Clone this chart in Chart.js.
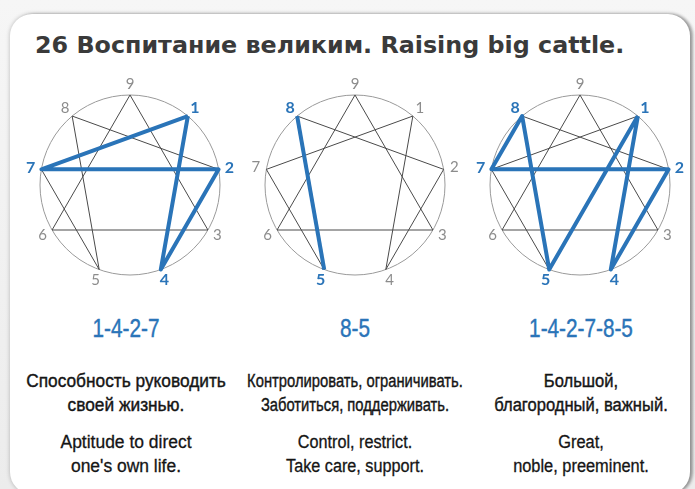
<!DOCTYPE html>
<html lang="ru">
<head>
<meta charset="UTF-8">
<title>26 Воспитание великим</title>
<script src="https://cdn.jsdelivr.net/npm/chart.js"></script>
<style>
  html, body { margin: 0; padding: 0; }
  body { width: 695px; height: 489px; overflow: hidden; position: relative;
         background: linear-gradient(180deg, #f6f6f6 0%, #ececec 100%); }
  .card { position: absolute; left: 10px; top: 14px; width: 680px; height: 480px;
          background: #fff; border-radius: 22px; box-shadow: 0 0 4px rgba(0,0,0,0.25), 3px 0 3px rgba(0,0,0,0.3); }
  h1 { position: absolute; left: 35px; top: 31px; margin: 0; font: bold 23.8px "DejaVu Sans", sans-serif; color: #3a3a3a; white-space: nowrap; }
  #diagram { position: absolute; left: 0; top: 60px; }
  .col { position: absolute; width: 300px; text-align: center; white-space: nowrap;
         font-family: "Liberation Sans", Arial, sans-serif; }
  .col div { transform-origin: 50% 50%; }
  .code { top: 313px; color: #2a74b8; font-size: 25px; line-height: 30px; -webkit-text-stroke: 0.4px #2a74b8; }
  .code div { transform: scaleX(0.83); }
  .ru { top: 369px; font-size: 18px; line-height: 24px; color: #151515; -webkit-text-stroke: 0.4px #151515; }
  .en { top: 430px; font-size: 18px; line-height: 24px; color: #151515; -webkit-text-stroke: 0.3px #151515; }
</style>
</head>
<body>
<div class="card"></div>
<h1>26 Воспитание великим. Raising big cattle.</h1>
<canvas id="diagram" width="695" height="240"></canvas>
<div id="captions"></div>

<script>
// --- данные ---
const pointNumbers = [1, 2, 3, 4, 5, 6, 7, 8, 9];
const trianglePath = [9, 3, 6, 9];
const hexadPath = [1, 4, 2, 8, 5, 7, 1];
const highlightPaths = [[1, 4, 2, 7, 1], [8, 5], [1, 4, 2, 7, 8, 5, 1]];
const diagramCodes = ['1-4-2-7', '8-5', '1-4-2-7-8-5'];
const captionsRu = [['Способность руководить', 'своей жизнью.'],
                    ['Контролировать, ограничивать.', 'Заботиться, поддерживать.'],
                    ['Большой,', 'благородный, важный.']];
const captionsEn = [['Aptitude to direct', 'one\'s own life.'],
                    ['Control, restrict.', 'Take care, support.'],
                    ['Great,', 'noble, preeminent.']];
const centers = [0, 2.5, 5];   // центры кругов (радиус = 1)

const blue = '#2a74b8';
const grey = '#4a4a4a';

// координаты вершины k на круге с центром cx
function pos(k, cx) {
  const a = (k % 9) * 40 * Math.PI / 180;
  return { x: cx + Math.sin(a), y: Math.cos(a) };
}
function pathData(path, cx) { return path.map(k => pos(k, cx)); }

const datasets = [];
centers.forEach(cx => {
  datasets.push({ data: pathData(trianglePath, cx), showLine: true, borderColor: grey, borderWidth: 1, pointRadius: 0, order: 3 });
  datasets.push({ data: pathData(hexadPath, cx), showLine: true, borderColor: grey, borderWidth: 1, pointRadius: 0, order: 3 });
});
centers.forEach((cx, i) => {
  datasets.push({ data: pathData(highlightPaths[i], cx), showLine: true, borderColor: blue, borderWidth: 4,
                  borderJoinStyle: 'round', pointRadius: 0, order: 1 });
});

// круги и номера
const enneagramPlugin = {
  id: 'enneagram',
  beforeDatasetsDraw(chart) {
    const { ctx, scales: { x, y } } = chart;
    ctx.save();
    ctx.strokeStyle = '#9a9a9a';
    ctx.lineWidth = 1;
    centers.forEach(cx => {
      const px = x.getPixelForValue(cx), py = y.getPixelForValue(0);
      const r = x.getPixelForValue(cx + 1) - px;
      ctx.beginPath();
      ctx.arc(px, py, r, 0, Math.PI * 2);
      ctx.stroke();
    });
    ctx.restore();
  },
  afterDatasetsDraw(chart) {
    const { ctx, scales: { x, y } } = chart;
    ctx.save();
    ctx.textAlign = 'center';
    ctx.textBaseline = 'middle';
    centers.forEach((cx, i) => {
      pointNumbers.forEach(k => {
        const a = (k % 9) * 40 * Math.PI / 180;
        const lx = x.getPixelForValue(cx + 1.12 * Math.sin(a));
        const ly = y.getPixelForValue(1.12 * Math.cos(a));
        const on = highlightPaths[i].includes(k);
        ctx.fillStyle = on ? blue : '#8c8c8c';
        ctx.font = (on ? 'bold 16px' : '15px') + ' "Lato", sans-serif';
        ctx.fillText(String(k), lx, ly);
      });
    });
    ctx.restore();
  }
};

new Chart(document.getElementById('diagram'), {
  type: 'scatter',
  data: { datasets },
  options: {
    responsive: false,
    animation: false,
    layout: { padding: 0 },
    plugins: { legend: { display: false }, tooltip: { enabled: false } },
    scales: {
      x: { type: 'linear', min: -130 / 90, max: -130 / 90 + 695 / 90, display: false },
      y: { type: 'linear', min: 125 / 90 - 240 / 90, max: 125 / 90, display: false }
    }
  },
  plugins: [enneagramPlugin]
});

// подписи
const holder = document.getElementById('captions');
const colX = [126, 355, 581];
const ruScale = [0.96, 0.82, 0.92];
const enScale = [0.97, 0.9, 0.91];
const lines = (arr, s) => arr.map(t => `<div style="transform:scaleX(${s})">${t}</div>`).join('');
colX.forEach((cxp, i) => {
  const left = cxp - 150;
  holder.insertAdjacentHTML('beforeend',
    `<div class="col code" style="left:${left}px"><div>${diagramCodes[i]}</div></div>` +
    `<div class="col ru" style="left:${left}px">${lines(captionsRu[i], ruScale[i])}</div>` +
    `<div class="col en" style="left:${left}px">${lines(captionsEn[i], enScale[i])}</div>`);
});
</script>
</body>
</html>
